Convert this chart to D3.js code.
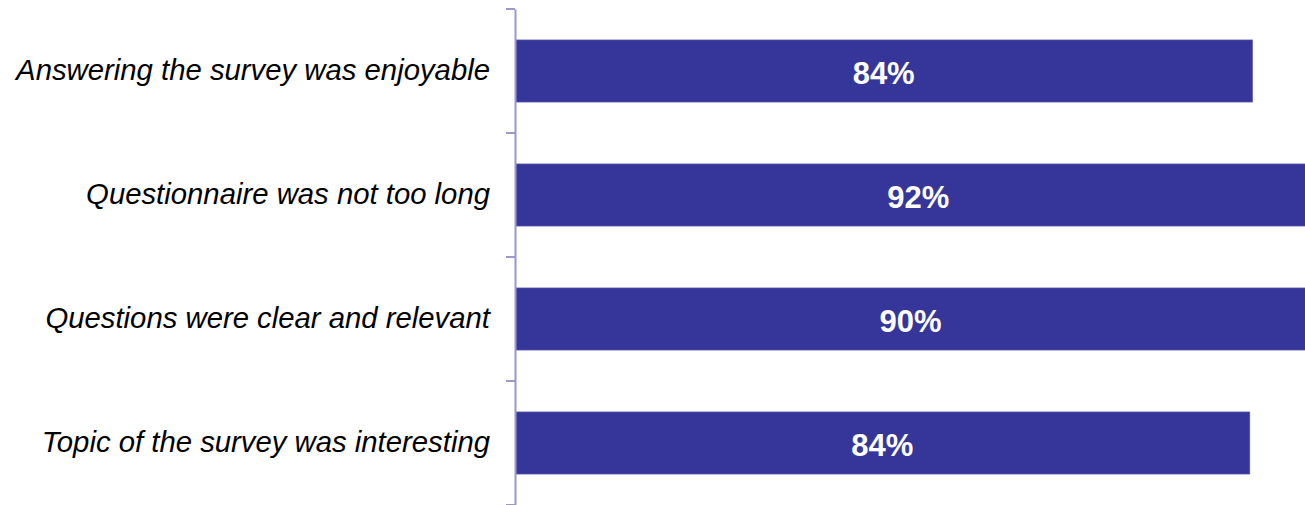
<!DOCTYPE html>
<html>
<head>
<meta charset="utf-8">
<script src="https://cdn.jsdelivr.net/npm/d3@7"></script>
<style>
  body { margin: 0; background: #fff; }
  svg { display: block; }
</style>
</head>
<body>
<div id="chart"></div>
<script>
// data
const categories = [
  "Answering the survey was enjoyable",
  "Questionnaire was not too long",
  "Questions were clear and relevant",
  "Topic of the survey was interesting"
];
const values = [84.0, 91.9, 90.1, 83.7];
const valueLabels = ["84%", "92%", "90%", "84%"];

const width = 1305,
  height = 505,
  margin = { top: 9, bottom: 0, left: 515, right: 0 };

const barColor = "#35359a",
  axisColor = "#9a98cc";

const svg = d3.select("#chart")
  .append("svg")
  .attr("width", width)
  .attr("height", height);

const x = d3.scaleLinear()
  .domain([0, 90])
  .range([margin.left, width - margin.right]);

const y = d3.scaleBand()
  .domain(categories)
  .range([margin.top, height - margin.bottom])
  .paddingInner(0.5)
  .paddingOuter(0.25);

const rows = categories.map((c, i) => ({ cat: c, value: values[i], label: valueLabels[i] }));

// bars
svg.selectAll("rect.bar")
  .data(rows)
  .join("rect")
  .attr("class", "bar")
  .attr("x", x(0) + 1)
  .attr("y", d => y(d.cat))
  .attr("width", d => x(d.value) - x(0) - 1)
  .attr("height", y.bandwidth())
  .attr("fill", barColor)
  .attr("stroke", "#5250aa")
  .attr("stroke-width", 0.8);

// value labels centred on the bar
svg.selectAll("text.val")
  .data(rows)
  .join("text")
  .attr("class", "val")
  .attr("x", d => (x(0) + x(d.value)) / 2)
  .attr("y", d => y(d.cat) + y.bandwidth() / 2 + 2)
  .attr("dy", "0.36em")
  .attr("text-anchor", "middle")
  .attr("fill", "#fff")
  .style("font-family", "Liberation Sans, Arial, sans-serif")
  .style("font-weight", "bold")
  .style("font-size", "31px")
  .text(d => d.label);

// axis line + category labels
const yAxis = svg.append("g")
  .attr("transform", `translate(${x(0)},0)`)
  .call(d3.axisLeft(y).tickSize(0).tickPadding(25));

yAxis.select(".domain")
  .attr("stroke", axisColor)
  .attr("stroke-width", 2);

yAxis.selectAll(".tick text")
  .attr("fill", "#000")
  .style("font-family", "Liberation Sans, Arial, sans-serif")
  .style("font-style", "italic")
  .style("font-size", "29.3px");

// tick marks sit on the band boundaries
const bounds = d3.range(categories.length + 1).map(i => margin.top + i * y.step());
yAxis.selectAll("line.bound")
  .data(bounds)
  .join("line")
  .attr("class", "bound")
  .attr("x1", -9)
  .attr("x2", 0)
  .attr("y1", d => d)
  .attr("y2", d => d)
  .attr("stroke", axisColor)
  .attr("stroke-width", 2);
</script>
</body>
</html>
